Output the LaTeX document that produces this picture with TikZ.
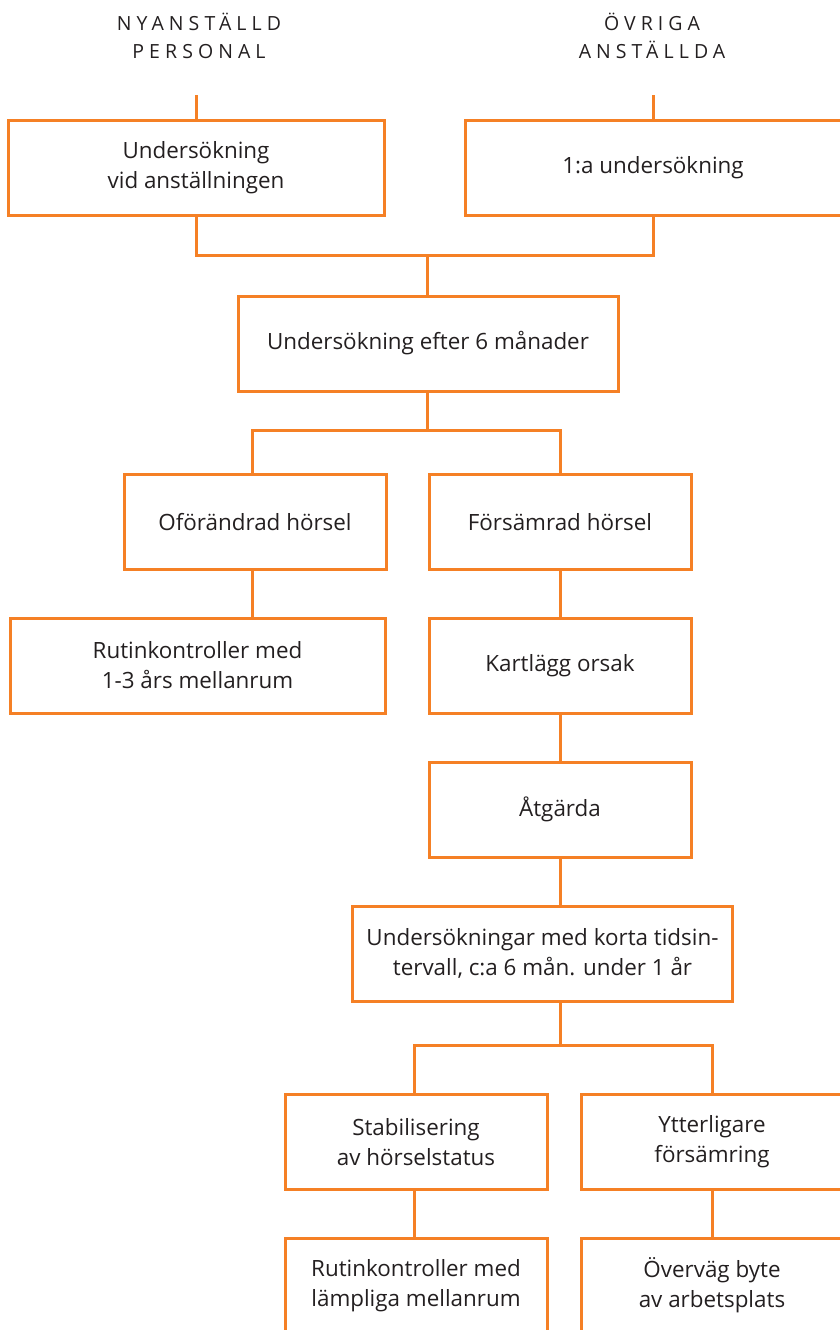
\documentclass[tikz,border=0pt]{standalone}
\usepackage{fontspec}
\setmainfont{Open Sans}
\newfontfamily\headfont[LetterSpace=26]{Open Sans}
\definecolor{flow}{RGB}{245,128,37}
\definecolor{ink}{RGB}{35,31,32}
\begin{document}
\begin{tikzpicture}[x=1pt,y=-1pt,
  box/.style={draw=flow, line width=3pt, rectangle, inner sep=0pt, minimum height=95pt,
    align=center, text=ink, font=\fontsize{22.4}{30}\selectfont},
  head/.style={align=center, text=ink, inner sep=0pt, font=\headfont\fontsize{19.5}{28}\selectfont},
  link/.style={draw=flow, line width=3pt, line join=miter}]
\useasboundingbox (0,0) rectangle (840,1330);
\clip (0,0) rectangle (840,1330);
\node[head] (hl) at (199,36) {NYANSTÄLLD\\PERSONAL};
\node[head] (hr) at (652,36) {ÖVRIGA\\ANSTÄLLDA};
\coordinate (t1) at (196,95);
\coordinate (t2) at (653,95);
\node[box, minimum width=376pt] (b1) at (196,167.5) {Undersökning\\vid anställningen};
\node[box, minimum width=376pt] (b2) at (653,167.5) {1:a undersökning};
\node[box, minimum width=380pt] (b3) at (428,343.5) {Undersökning efter 6 månader};
\node[box, minimum width=262pt] (b4) at (255,522) {Oförändrad hörsel};
\node[box, minimum width=262pt] (b5) at (560,522) {Försämrad hörsel};
\node[box, minimum width=375pt] (b6) at (197.5,665.5) {Rutinkontroller med\\1-3 års mellanrum};
\node[box, minimum width=262pt] (b7) at (560,665.5) {Kartlägg orsak};
\node[box, minimum width=262pt] (b8) at (560,809.5) {Åtgärda};
\node[box, minimum width=380pt] (b9) at (542.5,953.5) {Undersökningar med korta tidsin-\\tervall, c:a 6 mån. under 1 år};
\node[box, minimum width=262pt] (b10) at (416,1142) {Stabilisering\\av hörselstatus};
\node[box, minimum width=262pt] (b11) at (712,1142) {Ytterligare\\försämring};
\node[box, minimum width=262pt] (b12) at (416,1285.5) {Rutinkontroller med\\lämpliga mellanrum};
\node[box, minimum width=262pt] (b13) at (712,1285.5) {Överväg byte\\av arbetsplats};
\coordinate (j1) at (427,255);
\coordinate (j2) at (427,430);
\coordinate (j3) at (560,1045);
\draw[link] (t1) -- (b1.north);
\draw[link] (t2) -- (b2.north);
\draw[link] (b1.south) |- (j1) -| (b2.south);
\draw[link] (j1) -- (j1 |- b3.north);
\draw[link] (j2 |- b3.south) -- (j2);
\draw[link] (b4.north -| 252,0) |- (j2) -| (b5.north);
\draw[link] (252,570) -- (252,618);
\draw[link] (b5.south) -- (b7.north);
\draw[link] (b7.south) -- (b8.north);
\draw[link] (b8.south) -- (b8.south |- b9.north);
\draw[link] (j3 |- b9.south) -- (j3);
\draw[link] (b10.north -| 414,0) |- (j3) -| (b11.north);
\draw[link] (414,1190) -- (414,1238);
\draw[link] (b11.south) -- (b13.north);
\end{tikzpicture}
\end{document}
